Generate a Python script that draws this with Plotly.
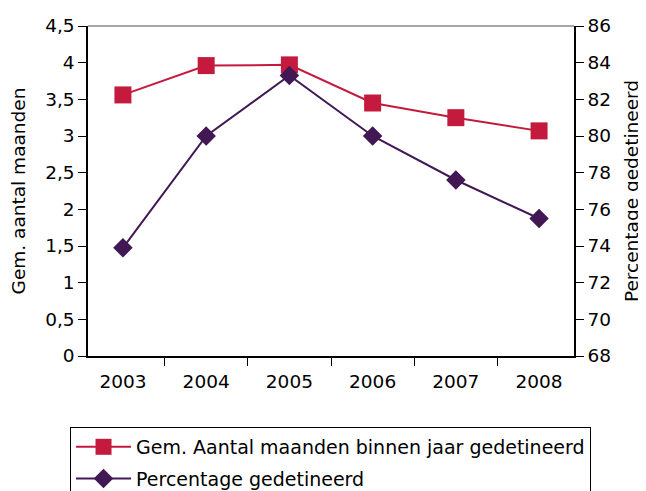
import plotly.graph_objects as go

years = ["2003", "2004", "2005", "2006", "2007", "2008"]
maanden = [3.56, 3.96, 3.97, 3.45, 3.25, 3.07]
percentage = [73.9, 80.0, 83.3, 80.0, 77.6, 75.5]

left_ticks = [0, 0.5, 1, 1.5, 2, 2.5, 3, 3.5, 4, 4.5]
left_labels = ["0", "0,5", "1", "1,5", "2", "2,5", "3", "3,5", "4", "4,5"]
right_ticks = [68, 70, 72, 74, 76, 78, 80, 82, 84, 86]

RED = "#C41A3E"
PURPLE = "#421854"
FONT = "DejaVu Sans, Liberation Sans, Arial, sans-serif"
FS = 18.5

fig = go.Figure()
fig.add_trace(go.Scatter(
    x=years, y=maanden, name="Gem. Aantal maanden binnen jaar gedetineerd",
    legendgroup="a", mode="lines+markers", line=dict(color=RED, width=2),
    marker=dict(symbol="square", size=17, color=RED), yaxis="y", cliponaxis=False))
fig.add_trace(go.Scatter(
    x=years, y=percentage, name="Percentage gedetineerd",
    legendgroup="b", mode="lines+markers", line=dict(color=PURPLE, width=2),
    marker=dict(symbol="diamond", size=15, color=PURPLE), yaxis="y2", cliponaxis=False))

axis_common = dict(showgrid=False, zeroline=False, showline=True, linecolor="black",
                   linewidth=1.5, ticks="outside", ticklen=8, tickcolor="black",
                   tickwidth=1.2, automargin=False,
                   tickfont=dict(size=FS, color="black", family=FONT))
inner_common = dict(showgrid=False, zeroline=False, showline=False, showticklabels=False,
                    ticks="inside", ticklen=8, tickcolor="black", tickwidth=1.2,
                    automargin=False)

# page body has an 8px margin, so the figure is offset by (8, 8)
fig.update_layout(
    width=638, height=483,
    margin=dict(l=80, r=72, t=18, b=135, autoexpand=False),
    paper_bgcolor="white", plot_bgcolor="white",
    font=dict(family=FONT, color="black"),
    showlegend=True,
    legend=dict(x=-0.037, y=-0.215, xanchor="left", yanchor="top",
                bordercolor="black", borderwidth=1, bgcolor="white",
                font=dict(size=19, color="black", family=FONT),
                traceorder="grouped", tracegroupgap=4, itemwidth=55),
    xaxis=dict(type="category", tickson="boundaries", ticklabelstandoff=8, **axis_common),
    yaxis=dict(range=[0, 4.5], tickvals=left_ticks, ticktext=left_labels,
               title=dict(text="Gem. aantal maanden", font=dict(size=FS, family=FONT)),
               **axis_common),
    yaxis2=dict(range=[68, 86], tickvals=right_ticks, overlaying="y", side="right",
                title=dict(text="Percentage gedetineerd", font=dict(size=FS, family=FONT)),
                **axis_common),
    xaxis2=dict(overlaying="x", range=[-0.5, 5.5],
                tickvals=[-0.5, 0.5, 1.5, 2.5, 3.5, 4.5, 5.5], side="bottom", **inner_common),
    yaxis3=dict(overlaying="y", range=[0, 4.5], tickvals=left_ticks, side="left", **inner_common),
    yaxis4=dict(overlaying="y", range=[68, 86], tickvals=right_ticks, side="right", **inner_common),
    shapes=[dict(type="line", xref="paper", yref="paper", x0=0, x1=1, y0=1, y1=1,
                 line=dict(color="#888888", width=1.5))],
)

fig.write_html("out.html")
